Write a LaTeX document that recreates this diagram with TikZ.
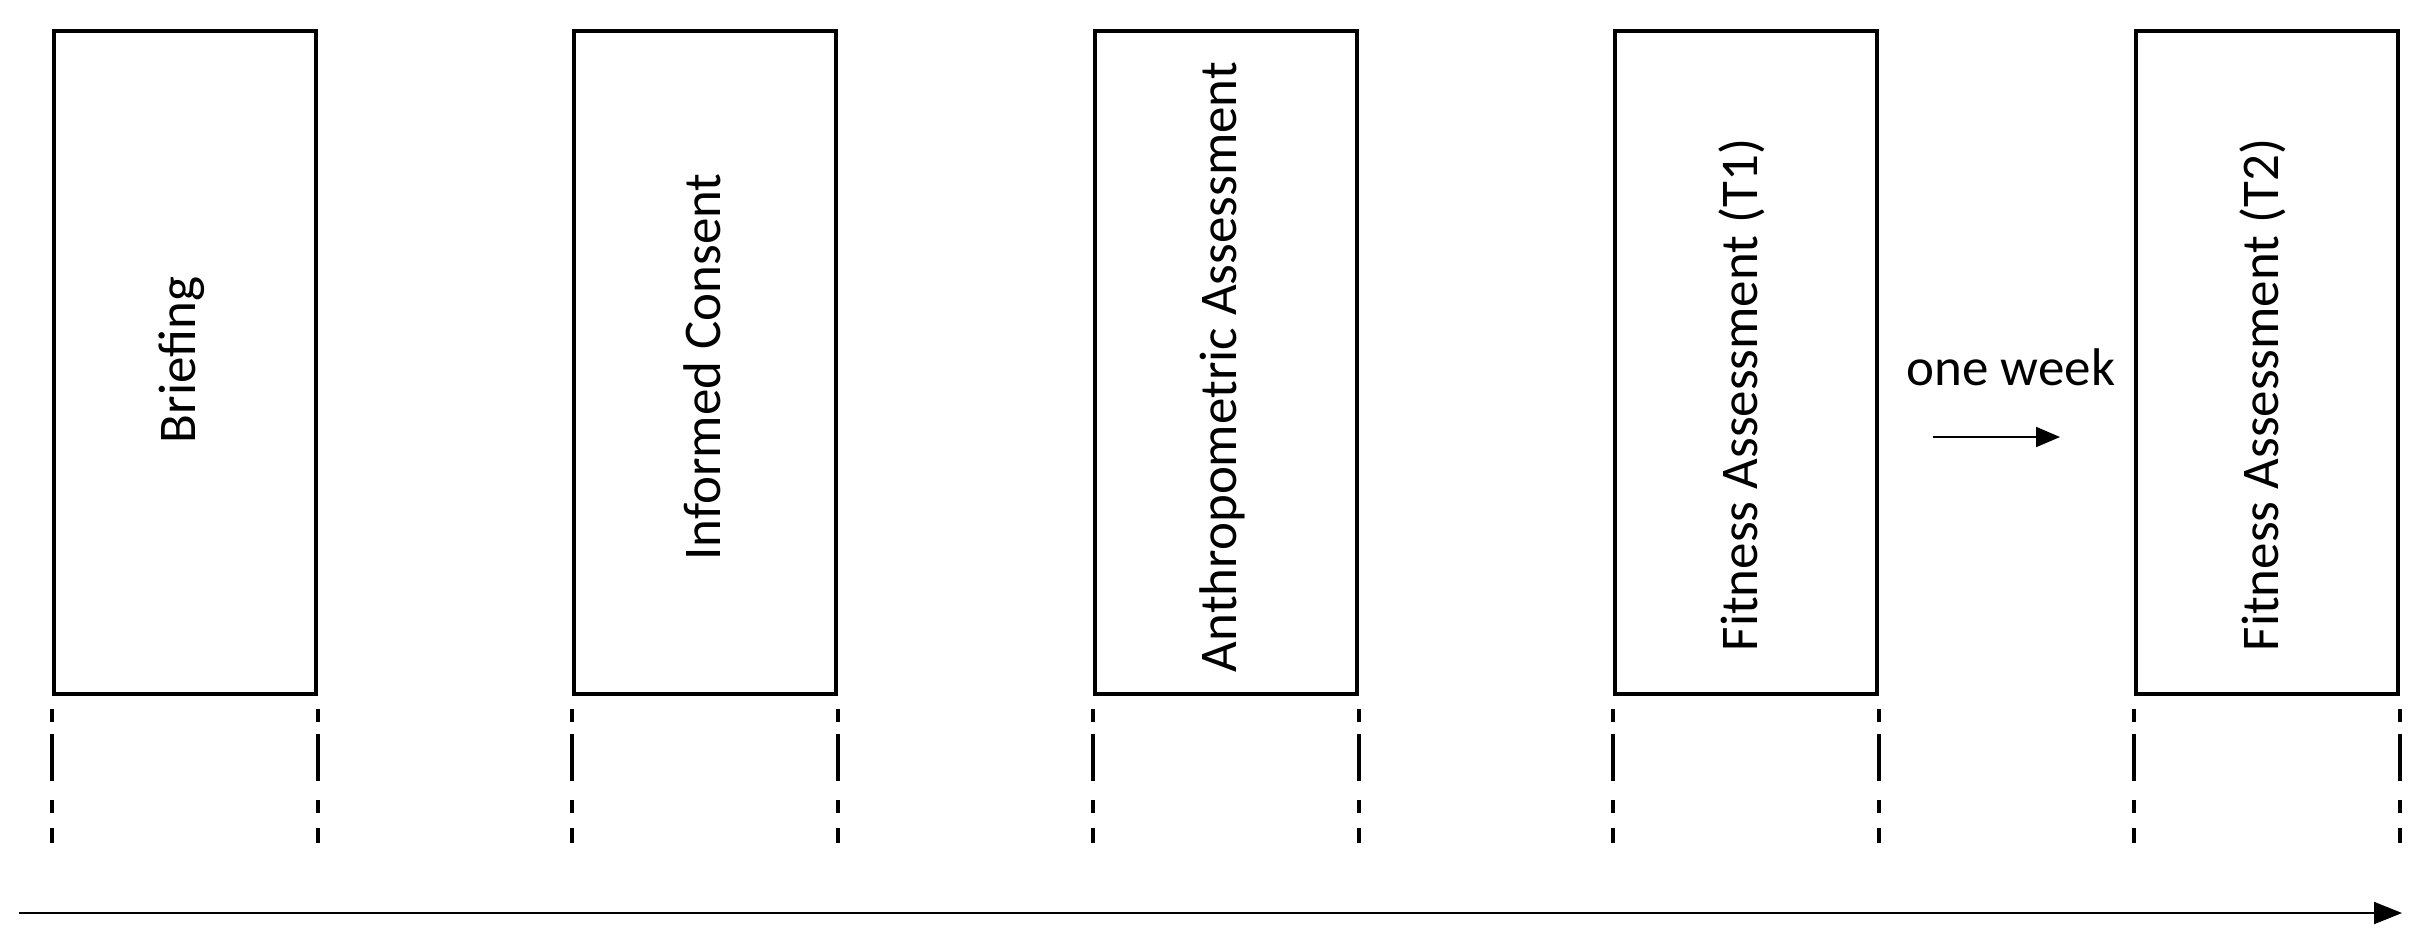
\documentclass[tikz,border=0pt]{standalone}
\usepackage{fontspec}
\setmainfont{Carlito}
\usetikzlibrary{arrows.meta}
\begin{document}
\begin{tikzpicture}[x=0.5pt,y=-0.5pt,
  stepbox/.style={draw,line width=1.8pt,minimum width=131pt,minimum height=331.5pt,inner sep=0pt},
  lbl/.style={rotate=90,font=\fontsize{26.5}{30}\selectfont},
  tick/.style={line width=1.8pt,dash pattern=on 6.5pt off 6pt on 23.5pt off 9.5pt on 6.5pt off 7.5pt on 7.5pt}]
\useasboundingbox (0,0) rectangle (2419,950);
\foreach \n/\x in {a/185,b/705,c/1226,d/1746,e/2267}{
  \node[stepbox] (\n) at (\x,362.5) {};
  \coordinate (\n l) at ([yshift=-6.5pt]\n.south west);
  \coordinate (\n r) at ([yshift=-6.5pt]\n.south east);
  \coordinate (\n lb) at ([yshift=-73.5pt]\n.south west);
  \coordinate (\n rb) at ([yshift=-73.5pt]\n.south east);
  \draw[tick] (\n l) -- (\n lb);
  \draw[tick] (\n r) -- (\n rb);
}
\node[lbl] (ta) at (182,360) {Briefing};
\node[lbl] (tb) at (702,367) {Informed Consent};
\node[lbl] (tc) at (1222,367) {Anthropometric Assessment};
\node[lbl] (td) at (1742,395) {Fitness Assessment (T1)};
\node[lbl] (te) at (2263,395) {Fitness Assessment (T2)};
\node[font=\fontsize{26.5}{30}\selectfont] (ow) at (2011,367) {one week};
\coordinate (w1) at (1933,437);
\coordinate (w2) at (2060,437);
\draw[line width=1pt,-{Triangle[length=12pt,width=10pt]}] (w1) -- (w2);
\coordinate (t1) at (19,913);
\coordinate (t2) at (2402,913);
\draw[line width=1pt,-{Triangle[length=14pt,width=11pt]}] (t1) -- (t2);
\end{tikzpicture}
\end{document}
